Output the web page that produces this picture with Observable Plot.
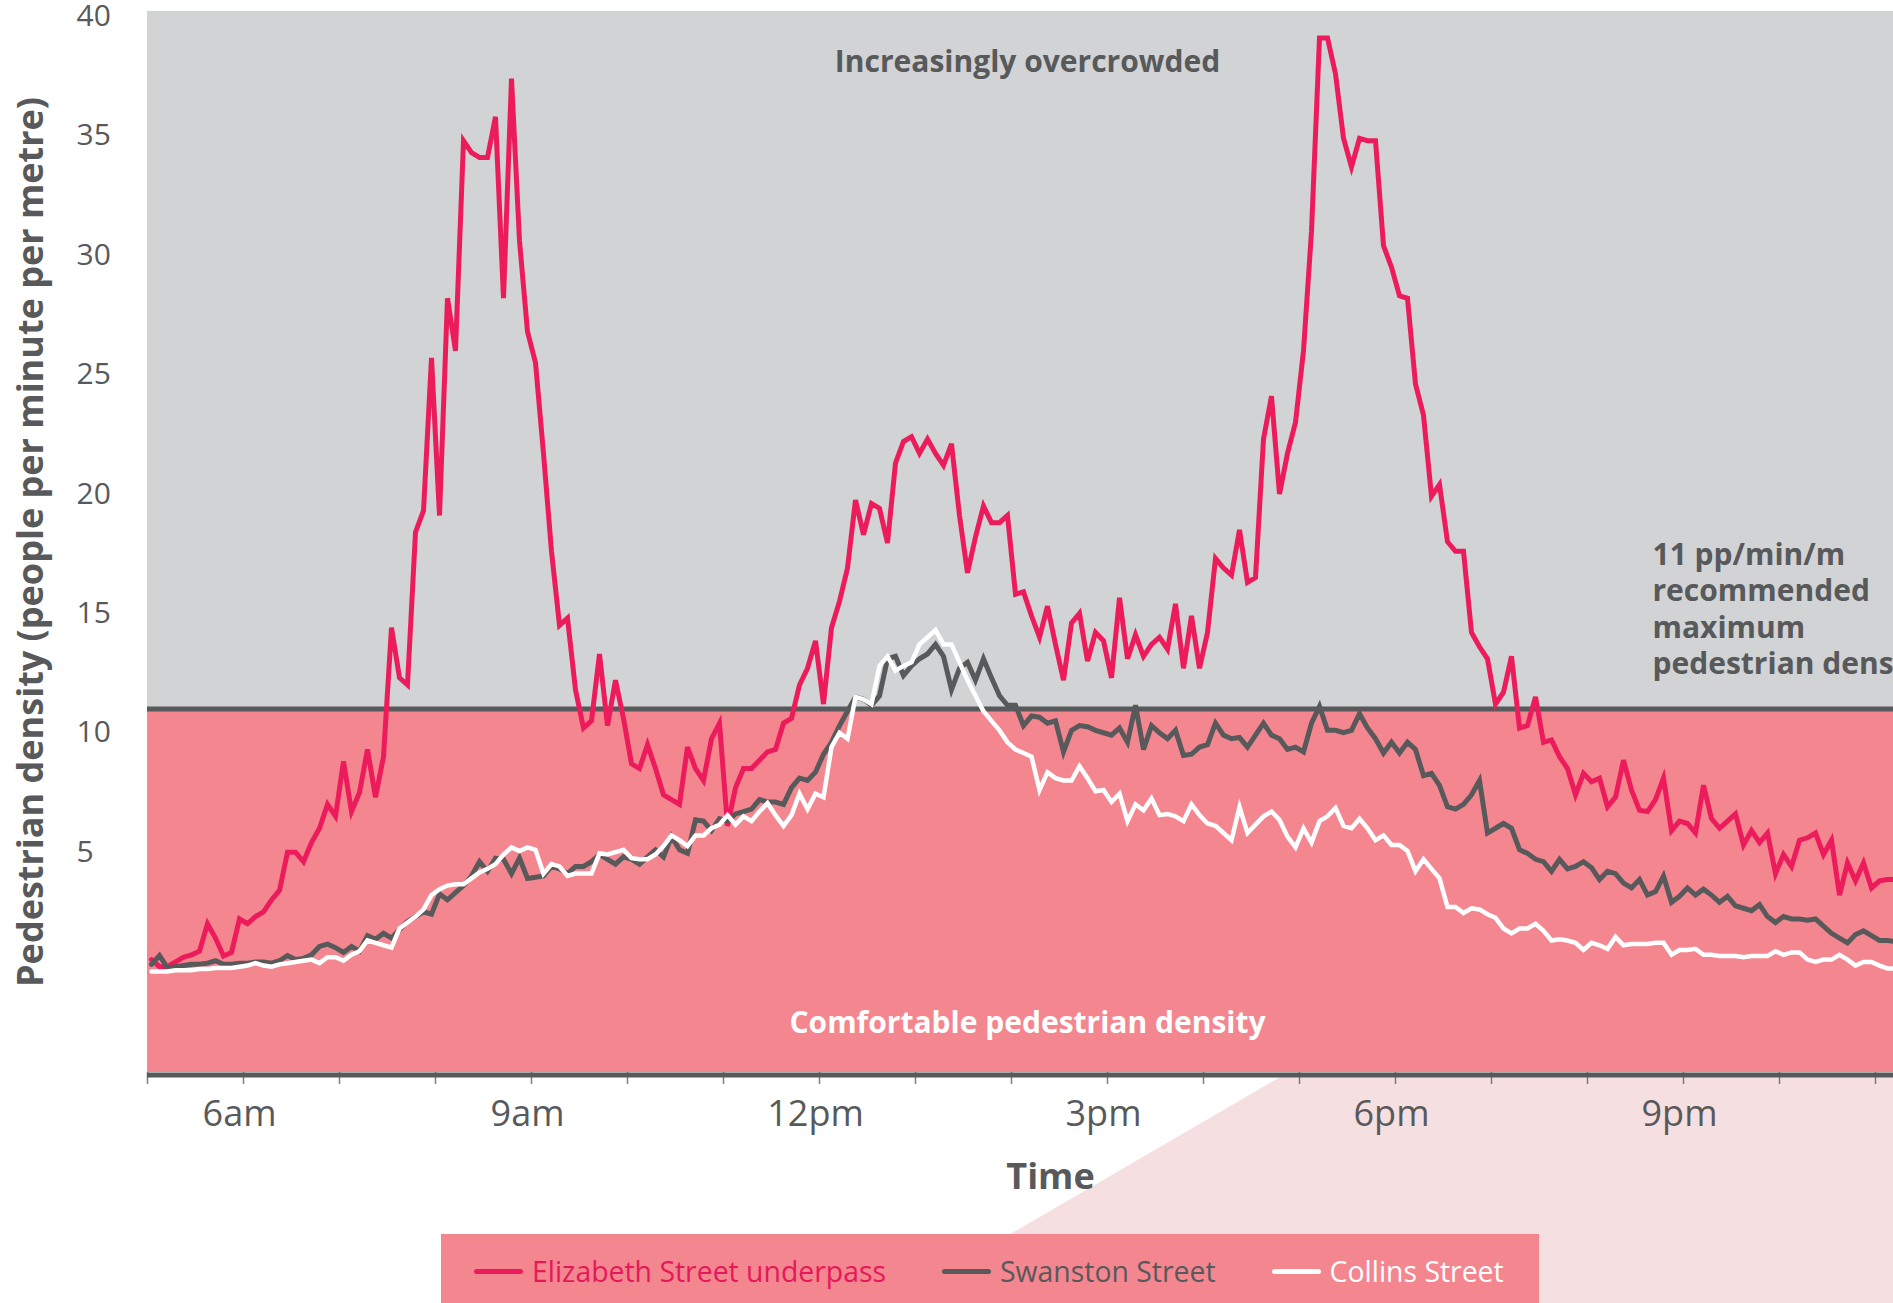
<!DOCTYPE html>
<html>
<head>
<meta charset="utf-8">
<script src="https://cdn.jsdelivr.net/npm/d3@7"></script>
<script src="https://cdn.jsdelivr.net/npm/@observablehq/plot@0.6"></script>
<style>
  html, body { margin: 0; padding: 0; background: #ffffff; overflow: hidden; }
  #wrap { position: relative; width: 1893px; height: 1303px; overflow: hidden; font-family: "Open Sans", sans-serif; }
  #deco { position: absolute; left: 0; top: 0; width: 1893px; height: 1303px; background: #f6dfe1;
          clip-path: polygon(1280px 1077px, 1893px 1077px, 1893px 1303px, 892px 1303px); z-index: 0; }
  #chart { position: absolute; left: 0; top: 0; z-index: 1; }
  #chart svg { background: transparent !important; overflow: hidden; }
  #legend { position: absolute; left: 441px; top: 1234px; width: 1098px; height: 69px; background: #f4868f;
            z-index: 2; display: flex; align-items: center; box-sizing: border-box; padding-left: 33px; padding-top: 5px; gap: 56px; }
  .item { display: flex; align-items: center; font-size: 28.4px; white-space: nowrap; }
  .sw { width: 49px; height: 5px; border-radius: 3px; margin-right: 9px; }
</style>
</head>
<body>
<div id="wrap">
  <div id="deco"></div>
  <div id="chart"></div>
  <div id="legend"></div>
</div>
<script>
// ---- data (5-minute bins starting 5:00am) ----
const seriesNames = ["Elizabeth Street underpass", "Swanston Street", "Collins Street"];
const seriesColors = ["#ec1c5c", "#58595b", "#ffffff"];
const legendTextColors = ["#e5195a", "#58595b", "#ffffff"];
const startHour = 5;
const stepMinutes = 5;

const elizabeth = [
  0.5, 0.2, 0.2, 0.4, 0.6, 0.7, 0.85, 2.0, 1.4, 0.65,
  0.8, 2.2, 2.0, 2.3, 2.5, 3.0, 3.4, 5.0, 5.0, 4.6,
  5.4, 6.0, 7.0, 6.5, 8.8, 6.7, 7.5, 9.3, 7.3, 9.0,
  14.4, 12.3, 12.0, 18.4, 19.3, 25.7, 19.1, 28.2, 26.0, 34.8,
  34.3, 34.1, 34.1, 35.8, 28.2, 37.4, 30.6, 26.8, 25.5, 21.7,
  17.6, 14.5, 14.8, 11.8, 10.2, 10.5, 13.3, 10.3, 12.2, 10.6,
  8.7, 8.5, 9.5, 8.5, 7.4, 7.2, 7.0, 9.4, 8.5, 8.0,
  9.75, 10.4, 6.1, 7.7, 8.5, 8.5, 8.85, 9.2, 9.3, 10.4,
  10.6, 12.0, 12.7, 13.85, 11.2, 14.4, 15.5, 16.9, 19.75, 18.3,
  19.6, 19.4, 17.95, 21.3, 22.2, 22.4, 21.7, 22.3, 21.7, 21.2,
  22.1, 19.1, 16.7, 18.2, 19.5, 18.8, 18.8, 19.1, 15.8, 15.9,
  14.9, 14.0, 15.3, 13.7, 12.2, 14.6, 15.0, 13.0, 14.2, 13.85,
  12.3, 15.65, 13.1, 14.1, 13.2, 13.7, 14.0, 13.5, 15.4, 12.7,
  14.9, 12.7, 14.2, 17.3, 16.9, 16.6, 18.5, 16.3, 16.5, 22.3,
  24.1, 20.0, 21.7, 23.0, 26.0, 31.0, 39.1, 39.1, 37.6, 34.9,
  33.7, 34.9, 34.8, 34.8, 30.4, 29.5, 28.3, 28.2, 24.6, 23.3,
  19.9, 20.4, 18.0, 17.6, 17.6, 14.2, 13.6, 13.1, 11.2, 11.7,
  13.2, 10.2, 10.3, 11.5, 9.6, 9.7, 9.0, 8.5, 7.4, 8.3,
  7.95, 8.1, 6.9, 7.3, 8.85, 7.6, 6.75, 6.7, 7.2, 8.1,
  5.9, 6.3, 6.2, 5.8, 7.8, 6.4, 6.0, 6.3, 6.6, 5.3,
  5.9, 5.4, 5.8, 4.1, 4.9, 4.4, 5.5, 5.6, 5.8, 4.9,
  5.5, 3.2, 4.55, 3.8, 4.55, 3.5, 3.8, 3.85, 3.85
];

const swanston = [
  0.3, 0.67, 0.15, 0.2, 0.25, 0.3, 0.3, 0.35, 0.45, 0.3,
  0.3, 0.35, 0.35, 0.4, 0.4, 0.35, 0.45, 0.67, 0.5, 0.55,
  0.7, 1.05, 1.15, 1.0, 0.8, 1.05, 0.85, 1.5, 1.35, 1.6,
  1.4, 1.75, 2.1, 2.3, 2.5, 2.4, 3.25, 3.0, 3.3, 3.6,
  4.0, 4.6, 4.2, 4.75, 4.7, 4.1, 4.75, 3.9, 3.95, 4.0,
  4.4, 4.3, 4.1, 4.4, 4.4, 4.6, 4.9, 4.7, 4.5, 4.8,
  4.7, 4.5, 4.8, 5.1, 4.8, 5.65, 5.1, 4.95, 6.35, 6.3,
  5.9, 6.4, 6.3, 6.6, 6.7, 6.8, 7.2, 7.1, 7.1, 7.0,
  7.7, 8.1, 8.0, 8.35, 9.1, 9.6, 10.3, 10.9, 11.5, 11.4,
  11.15, 11.55, 13.1, 13.2, 12.4, 12.8, 13.1, 13.3, 13.7, 13.2,
  11.8, 12.7, 12.95, 12.2, 13.1, 12.3, 11.55, 11.15, 11.15, 10.3,
  10.7, 10.65, 10.4, 10.5, 9.2, 10.1, 10.3, 10.25, 10.1, 10.0,
  9.9, 10.2, 9.6, 11.15, 9.3, 10.3, 10.0, 9.75, 10.1, 9.05,
  9.1, 9.4, 9.5, 10.4, 9.9, 9.75, 9.8, 9.4, 9.9, 10.4,
  9.9, 9.75, 9.3, 9.4, 9.2, 10.4, 11.1, 10.1, 10.1, 10.0,
  10.1, 10.8, 10.2, 9.75, 9.15, 9.6, 9.15, 9.6, 9.3, 8.2,
  8.3, 7.8, 6.9, 6.8, 7.0, 7.4, 8.0, 5.8, 6.0, 6.2,
  6.0, 5.1, 4.95, 4.7, 4.6, 4.2, 4.7, 4.3, 4.4, 4.6,
  4.35, 3.85, 4.2, 4.1, 3.7, 3.5, 3.85, 3.2, 3.35, 4.0,
  2.9, 3.15, 3.5, 3.2, 3.45, 3.2, 2.9, 3.15, 2.75, 2.65,
  2.55, 2.8, 2.3, 2.05, 2.3, 2.2, 2.2, 2.15, 2.2, 1.9,
  1.6, 1.4, 1.2, 1.55, 1.7, 1.5, 1.3, 1.3, 1.25
];

const collins = [
  0.0, 0.0, 0.0, 0.05, 0.05, 0.05, 0.1, 0.1, 0.15, 0.15,
  0.15, 0.2, 0.25, 0.35, 0.25, 0.2, 0.3, 0.35, 0.4, 0.45,
  0.5, 0.35, 0.6, 0.6, 0.45, 0.7, 0.85, 1.3, 1.2, 1.1,
  1.0, 1.8, 2.05, 2.3, 2.6, 3.2, 3.45, 3.6, 3.65, 3.65,
  3.9, 4.15, 4.3, 4.5, 4.9, 5.2, 5.05, 5.2, 5.1, 4.1,
  4.5, 4.4, 4.0, 4.1, 4.1, 4.1, 4.95, 4.9, 5.0, 5.1,
  4.75, 4.7, 4.7, 4.9, 5.25, 5.7, 5.5, 5.25, 5.7, 5.7,
  6.0, 6.15, 6.55, 6.15, 6.5, 6.3, 6.7, 7.05, 6.55, 6.1,
  6.55, 7.45, 6.8, 7.45, 7.3, 9.4, 10.0, 9.75, 11.5, 11.4,
  11.2, 12.8, 13.2, 12.6, 12.8, 12.95, 13.7, 14.0, 14.3, 13.7,
  13.7, 12.95, 12.2, 11.55, 10.9, 10.5, 10.1, 9.6, 9.3, 9.15,
  9.0, 7.6, 8.35, 8.1, 8.0, 8.0, 8.6, 8.1, 7.55, 7.6,
  7.1, 7.45, 6.3, 7.0, 6.75, 7.25, 6.55, 6.6, 6.5, 6.3,
  7.0, 6.55, 6.2, 6.1, 5.8, 5.5, 6.9, 5.8, 6.15, 6.5,
  6.7, 6.35, 5.65, 5.2, 6.0, 5.4, 6.3, 6.5, 6.85, 6.1,
  6.0, 6.4, 6.0, 5.5, 5.7, 5.3, 5.3, 5.05, 4.2, 4.7,
  4.3, 3.9, 2.7, 2.7, 2.45, 2.65, 2.6, 2.4, 2.25, 1.8,
  1.6, 1.8, 1.8, 2.0, 1.7, 1.3, 1.35, 1.3, 1.2, 0.9,
  1.2, 1.1, 0.95, 1.45, 1.1, 1.15, 1.15, 1.15, 1.2, 1.2,
  0.7, 0.9, 0.9, 0.95, 0.7, 0.7, 0.65, 0.65, 0.65, 0.6,
  0.65, 0.65, 0.65, 0.85, 0.7, 0.8, 0.8, 0.5, 0.4, 0.5,
  0.5, 0.7, 0.5, 0.25, 0.4, 0.4, 0.25, 0.13, 0.13
];

const hourTicks = [5, 6, 7, 8, 9, 10, 11, 12, 13, 14, 15, 16, 17, 18, 19, 20, 21, 22, 23];
const labelHours = [6, 9, 12, 15, 18, 21];
const hourLabels = {6: "6am", 9: "9am", 12: "12pm", 15: "3pm", 18: "6pm", 21: "9pm"};
const yTicks = [5, 10, 15, 20, 25, 30, 35, 40];
const threshold = 11;
const yDomain = [-4.23, 40.21];
const xDomain = [5, 23.1875];

const zoneLabels = ["Increasingly overcrowded", "Comfortable pedestrian density"];
const thresholdNote = "11 pp/min/m\nrecommended\nmaximum\npedestrian density";
const yTitle = "Pedestrian density (people per minute per metre)";
const xTitle = "Time";

// ---- build tidy rows ----
const seriesValues = [elizabeth, swanston, collins];
const rows = seriesValues.map((vals, s) =>
  vals.map((v, i) => ({series: seriesNames[s], t: startHour + (i * stepMinutes + stepMinutes / 2) / 60, v}))
);

const dark = "#58595b";
const greyZone = "#d1d3d4";
const pinkZone = "#f4868f";

const chart = Plot.plot({
  width: 1893,
  height: 1234,
  marginTop: 11,
  marginBottom: 162,
  marginLeft: 147,
  marginRight: 0,
  style: {fontFamily: "'Open Sans', sans-serif", background: "transparent", overflow: "hidden", color: dark},
  x: {domain: xDomain, label: null},
  y: {domain: yDomain, label: null},
  marks: [
    Plot.rect([{lo: threshold, hi: yDomain[1]}], {x1: () => xDomain[0], x2: () => xDomain[1], y1: "lo", y2: "hi", fill: greyZone}),
    Plot.rect([{lo: yDomain[0], hi: threshold}], {x1: () => xDomain[0], x2: () => xDomain[1], y1: "lo", y2: "hi", fill: pinkZone}),
    Plot.ruleY([threshold], {stroke: dark, strokeWidth: 5}),
    // hourly tick marks
    Plot.axisX(hourTicks, {
      anchor: "bottom", tickSize: 12, tickPadding: 0, strokeWidth: 1.5,
      stroke: "#7a7b7d", label: null, tickFormat: () => ""
    }),
    // tick labels
    Plot.axisX(labelHours, {
      anchor: "bottom", tickSize: 0, tickPadding: 28, fontSize: 36, dx: -4,
      fill: dark, label: null, tickFormat: h => hourLabels[h]
    }),
    Plot.ruleY([yDomain[0]], {stroke: dark, strokeWidth: 5, dy: 2.5}),
    Plot.axisY(yTicks, {
      anchor: "left", tickSize: 0, tickPadding: 0, textAnchor: "start", dx: -71,
      fontSize: 30, fill: dark, label: null, tickFormat: d => String(d)
    }),
    Plot.line(rows[0], {x: "t", y: "v", stroke: seriesColors[0], strokeWidth: 5, strokeLinejoin: "miter", strokeMiterlimit: 4}),
    Plot.line(rows[1], {x: "t", y: "v", stroke: seriesColors[1], strokeWidth: 5, strokeLinejoin: "miter", strokeMiterlimit: 4}),
    Plot.line(rows[2], {x: "t", y: "v", stroke: seriesColors[2], strokeWidth: 4.5, strokeLinejoin: "miter", strokeMiterlimit: 4}),
    Plot.text([zoneLabels[0]], {frameAnchor: "top", lineAnchor: "middle", textAnchor: "middle", dx: 7, dy: 50.4,
      fontSize: 30, fontWeight: "bold", fill: dark}),
    Plot.text([zoneLabels[1]], {frameAnchor: "bottom", lineAnchor: "middle", textAnchor: "middle", dx: 7, dy: -49.6,
      fontSize: 30, fontWeight: "bold", fill: "#ffffff"}),
    Plot.text([thresholdNote], {frameAnchor: "top-right", textAnchor: "start", lineAnchor: "top", dx: -241, dy: 528,
      fontSize: 30, fontWeight: "bold", lineHeight: 1.207, fill: dark}),
    Plot.text([yTitle], {frameAnchor: "left", lineAnchor: "middle", textAnchor: "middle", dx: -116, rotate: -90,
      fontSize: 36, fontWeight: "bold", fill: dark}),
    Plot.text([xTitle], {frameAnchor: "bottom", lineAnchor: "middle", textAnchor: "middle", dx: 30, dy: 104.5,
      fontSize: 36, fontWeight: "bold", fill: dark})
  ]
});
document.getElementById("chart").appendChild(chart);

// ---- legend (below the plot) ----
const legend = document.getElementById("legend");
seriesNames.forEach((name, s) => {
  const item = document.createElement("div");
  item.className = "item";
  const sw = document.createElement("span");
  sw.className = "sw";
  sw.style.background = seriesColors[s];
  const tx = document.createElement("span");
  tx.textContent = name;
  tx.style.color = legendTextColors[s];
  item.appendChild(sw);
  item.appendChild(tx);
  legend.appendChild(item);
});
</script>
</body>
</html>
